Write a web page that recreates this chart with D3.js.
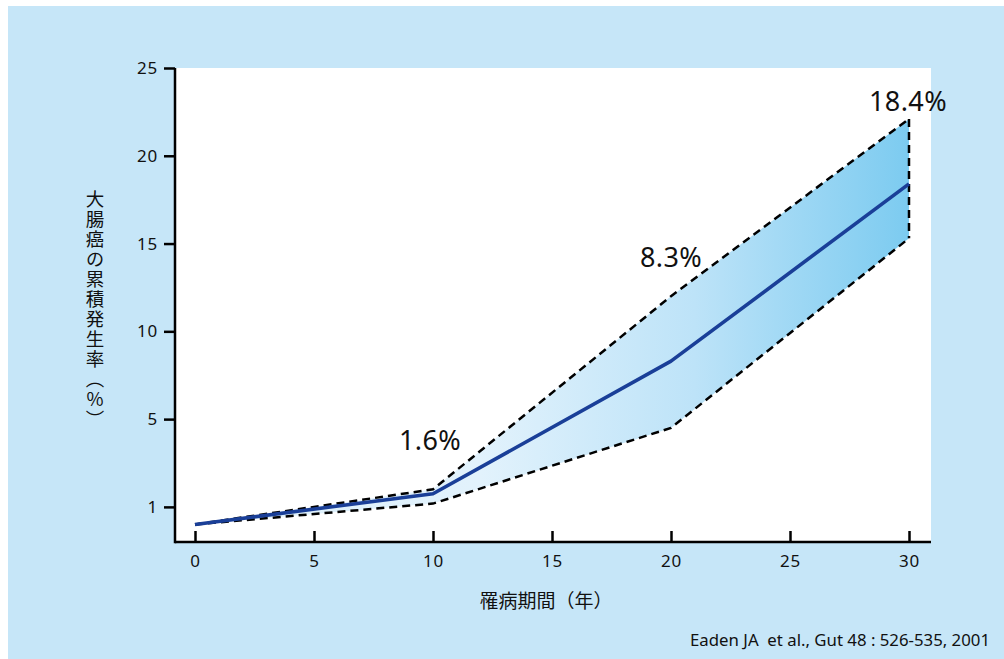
<!DOCTYPE html>
<html>
<head>
<meta charset="utf-8">
<script src="https://cdn.jsdelivr.net/npm/d3@7"></script>
<style>
  html, body { margin: 0; padding: 0; background: #ffffff; }
  svg { display: block; }
  text { font-family: "Noto Sans", "Noto Sans CJK JP", sans-serif; fill: #111; }
  .cjk { font-family: "Noto Sans CJK JP", sans-serif; }
</style>
</head>
<body>
<svg id="chart" width="1004" height="659"></svg>
<script>
// Cumulative colorectal cancer incidence in ulcerative colitis by disease duration
const years = [0, 10, 20, 30];
const cumulative = [0, 1.6, 8.3, 18.4];
const upperCI = [0, 1.8, 12.0, 22.1];
const lowerCI = [0, 1.15, 4.6, 15.3];
const pointLabels = ["", "1.6%", "8.3%", "18.4%"];
const xTicks = [0, 5, 10, 15, 20, 25, 30];
const yTicks = [1, 5, 10, 15, 20, 25];
const yTitle = "大腸癌の累積発生率︵%︶";
const xTitle = "罹病期間（年）";
const source = "Eaden JA  et al., Gut 48 : 526-535, 2001";

const W = 1004, H = 659;
const svg = d3.select("#chart");

// page background
svg.append("rect").attr("x", 8).attr("y", 6).attr("width", W - 8).attr("height", H - 6)
  .attr("fill", "#c6e6f8");

const plot = { left: 175, top: 68, width: 756, height: 474 };
const g = svg.append("g").attr("transform", `translate(${plot.left},${plot.top})`);

g.append("rect").attr("width", plot.width).attr("height", plot.height).attr("fill", "#ffffff");

const x = d3.scaleLinear().domain([0, 30]).range([20, plot.width - 22]);

// y axis is broken below 5: the 1–5 step takes roughly five units of space
const u = plot.height / 27;
const y = d3.scaleLinear()
  .domain([-1, 1, 5, 25])
  .range([plot.height, plot.height - 2 * u, plot.height - 7 * u, 0]);

// horizontal gradient for the confidence band
const defs = svg.append("defs");
const grad = defs.append("linearGradient").attr("id", "bandGrad")
  .attr("gradientUnits", "userSpaceOnUse")
  .attr("x1", x(0)).attr("x2", x(30))
  .attr("y1", 0).attr("y2", 0);
grad.append("stop").attr("offset", "0%").attr("stop-color", "#dcf0fc");
grad.append("stop").attr("offset", "40%").attr("stop-color", "#e2f2fc");
grad.append("stop").attr("offset", "70%").attr("stop-color", "#bde3f8");
grad.append("stop").attr("offset", "100%").attr("stop-color", "#7ccbf0");

const rows = years.map((yr, i) => ({ yr, v: cumulative[i], hi: upperCI[i], lo: lowerCI[i] }));

g.append("path").datum(rows)
  .attr("fill", "url(#bandGrad)")
  .attr("d", d3.area().x(d => x(d.yr)).y0(d => y(d.lo)).y1(d => y(d.hi)));

const dash = "8,5";
g.append("path").datum(rows).attr("fill", "none").attr("stroke", "#000")
  .attr("stroke-width", 2.5).attr("stroke-dasharray", dash)
  .attr("d", d3.line().x(d => x(d.yr)).y(d => y(d.hi)));
g.append("path").datum(rows).attr("fill", "none").attr("stroke", "#000")
  .attr("stroke-width", 2.5).attr("stroke-dasharray", dash)
  .attr("d", d3.line().x(d => x(d.yr)).y(d => y(d.lo)));
// closing edge at 30 years
const last = rows[rows.length - 1];
g.append("line").attr("x1", x(last.yr)).attr("x2", x(last.yr))
  .attr("y1", y(last.hi)).attr("y2", y(last.lo))
  .attr("stroke", "#000").attr("stroke-width", 2.5).attr("stroke-dasharray", dash);

// main cumulative incidence line
g.append("path").datum(rows).attr("fill", "none").attr("stroke", "#1a3f98")
  .attr("stroke-width", 3.6).attr("stroke-linejoin", "round")
  .attr("d", d3.line().x(d => x(d.yr)).y(d => y(d.v)));

// value labels above each point
const labelOffset = [0, 44, 94, 73];
const labelShift = [0, -3, 0, -2];
rows.forEach((d, i) => {
  if (!pointLabels[i]) return;
  g.append("text")
    .attr("x", x(d.yr) + labelShift[i])
    .attr("y", y(d.v) - labelOffset[i])
    .attr("text-anchor", i === 3 ? "start" : "middle")
    .attr("dx", i === 3 ? -38 : 0)
    .attr("font-size", 27)
    .attr("letter-spacing", 0.4)
    .text(pointLabels[i]);
});

// axes
const xAxis = g.append("g").attr("transform", `translate(0,${plot.height})`)
  .call(d3.axisBottom(x).tickValues(xTicks).tickSize(-11).tickPadding(13).tickFormat(d3.format("d")));
const yAxis = g.append("g")
  .call(d3.axisLeft(y).tickValues(yTicks).tickSize(11).tickPadding(6).tickFormat(d3.format("d")));

[xAxis, yAxis].forEach(ax => {
  ax.select(".domain").remove();
  ax.selectAll(".tick line").attr("stroke", "#000").attr("stroke-width", 2.5);
  ax.selectAll(".tick text").attr("font-size", 17).attr("fill", "#111")
    .attr("letter-spacing", 0.8)
    .attr("font-family", "Noto Sans, sans-serif");
});
g.append("line").attr("x1", 0).attr("x2", plot.width).attr("y1", plot.height).attr("y2", plot.height)
  .attr("stroke", "#000").attr("stroke-width", 2.5);
g.append("line").attr("x1", 0).attr("x2", 0).attr("y1", 0).attr("y2", plot.height + 1.25)
  .attr("stroke", "#000").attr("stroke-width", 2.5);

// vertical y-axis title, set in vertical writing
svg.append("text").attr("class", "cjk")
  .attr("x", 95).attr("y", 190)
  .style("writing-mode", "vertical-rl")
  .style("text-orientation", "upright")
  .attr("font-size", 18.5)
  .attr("letter-spacing", 1.5)
  .text(yTitle);

// x-axis title
svg.append("text").attr("class", "cjk")
  .attr("x", 546).attr("y", 608)
  .attr("text-anchor", "middle")
  .attr("font-size", 19)
  .text(xTitle);

// source note
svg.append("text")
  .attr("x", 990).attr("y", 646)
  .attr("text-anchor", "end")
  .attr("font-size", 16.8)
  .style("white-space", "pre")
  .text(source);
</script>
</body>
</html>
